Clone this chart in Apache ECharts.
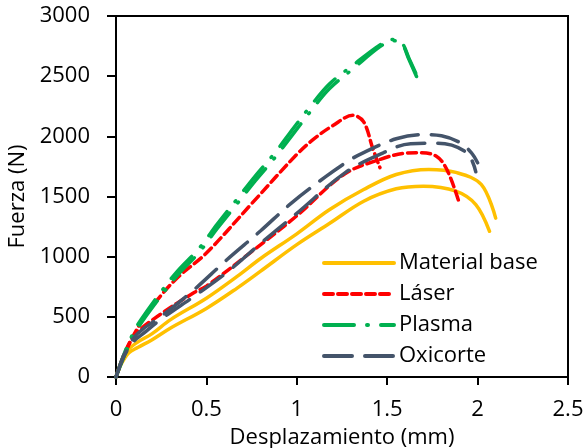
<!DOCTYPE html>
<html>
<head>
<meta charset="utf-8">
<script src="https://cdn.jsdelivr.net/npm/echarts@6/dist/echarts.min.js"></script>
<style>html,body{margin:0;padding:0;background:#fff}#c{width:586px;height:448px}</style>
</head>
<body>
<div id="c"></div>
<script>
// ---- data ----
const seriesNames = ["Material base", "Láser", "Plasma", "Oxicorte"];
const xTicks = [0, 0.5, 1, 1.5, 2, 2.5];
const yTicks = [0, 500, 1000, 1500, 2000, 2500, 3000];

const baseAx = [0, 0.03, 0.07, 0.12, 0.2, 0.3, 0.5, 0.67, 0.8, 1.0, 1.18, 1.37, 1.55, 1.73, 1.88, 2.02, 2.1];
const baseAy = [0, 130, 230, 290, 360, 475, 655, 836, 985, 1190, 1390, 1558, 1683, 1725, 1700, 1600, 1320];
const baseBx = [0, 0.03, 0.07, 0.12, 0.2, 0.3, 0.5, 0.67, 0.8, 1.0, 1.18, 1.37, 1.55, 1.7, 1.88, 1.99, 2.066];
const baseBy = [0, 110, 200, 245, 310, 405, 570, 739, 880, 1100, 1275, 1461, 1564, 1586, 1545, 1433, 1211];

const laserAx = [0, 0.04, 0.08, 0.15, 0.25, 0.35, 0.5, 0.75, 1.0, 1.1, 1.2, 1.31, 1.37, 1.42, 1.46];
const laserAy = [0, 170, 300, 480, 680, 840, 1030, 1440, 1850, 1985, 2090, 2175, 2120, 1900, 1740];
const laserBx = [0, 0.06, 0.11, 0.24, 0.43, 0.5, 0.74, 1.0, 1.26, 1.46, 1.6, 1.68, 1.77, 1.83, 1.9];
const laserBy = [0, 230, 360, 515, 700, 755, 1030, 1340, 1683, 1808, 1860, 1864, 1836, 1725, 1440];

const plasmaAx = [0, 0.05, 0.1, 0.14, 0.24, 0.34, 0.46, 0.56, 0.67, 0.77, 0.88, 0.98, 1.07, 1.18, 1.31, 1.46, 1.53, 1.58, 1.62, 1.68];
const plasmaAy = [0, 210, 380, 480, 690, 880, 1070, 1270, 1480, 1670, 1865, 2065, 2240, 2435, 2590, 2760, 2805, 2780, 2650, 2450];
const plasmaBx = [0, 0.05, 0.1, 0.14, 0.24, 0.34, 0.46, 0.56, 0.67, 0.77, 0.88, 0.98, 1.07, 1.18, 1.31, 1.46, 1.53, 1.58, 1.62, 1.67];
const plasmaBy = [0, 190, 350, 450, 655, 845, 1035, 1235, 1440, 1630, 1825, 2020, 2195, 2395, 2560, 2745, 2795, 2770, 2640, 2470];

const oxiAx = [0, 0.04, 0.07, 0.1, 0.15, 0.25, 0.42, 0.61, 0.8, 0.97, 1.16, 1.29, 1.37, 1.55, 1.7, 1.8, 1.9, 1.965, 2.0];
const oxiAy = [0, 170, 250, 330, 400, 505, 710, 970, 1215, 1445, 1665, 1800, 1865, 1980, 2015, 2005, 1950, 1865, 1780];
const oxiBx = [0, 0.04, 0.07, 0.1, 0.15, 0.24, 0.46, 0.63, 0.8, 1.0, 1.27, 1.48, 1.63, 1.78, 1.94, 1.99];
const oxiBy = [0, 160, 240, 300, 360, 470, 700, 890, 1110, 1360, 1700, 1864, 1939, 1942, 1864, 1705];

// ---- build ----
function zip(xs, ys) { return xs.map((x, i) => [x, ys[i]]); }
const FONT = "Open Sans";
const colors = ["#FFC000", "#FF0000", "#00B050", "#44546A"];
const dashes = ["solid", [9, 5], [30, 13, 1, 13], [28, 13]];

function mk(nameIdx, xs, ys) {
  return {
    type: "line",
    name: seriesNames[nameIdx],
    data: zip(xs, ys),
    showSymbol: false,
    symbol: "none",
    smooth: 0.35,
    color: colors[nameIdx],
    lineStyle: { color: colors[nameIdx], width: 3.5, type: dashes[nameIdx], cap: "round" },
    silent: true,
    animation: false
  };
}

const chart = echarts.init(document.getElementById("c"), null, { renderer: "canvas" });
chart.setOption({
  animation: false,
  textStyle: { fontFamily: FONT },
  grid: { left: 116, right: 18, top: 16, bottom: 71, containLabel: false, outerBoundsMode: "none",
          show: true, borderColor: "#000", borderWidth: 2, backgroundColor: "transparent" },
  xAxis: {
    type: "value", min: xTicks[0], max: xTicks[xTicks.length - 1], interval: 0.5,
    name: "Desplazamiento (mm)", nameLocation: "middle", nameGap: 50,
    nameTextStyle: { fontFamily: FONT, fontSize: 22, color: "#000" },
    axisLine: { show: true, lineStyle: { color: "#000", width: 2 } },
    axisTick: { show: true, inside: false, length: 8, lineStyle: { color: "#000", width: 2 } },
    axisLabel: { fontFamily: FONT, fontSize: 22, color: "#000", margin: 22, formatter: v => String(v) },
    splitLine: { show: false }
  },
  yAxis: {
    type: "value", min: yTicks[0], max: yTicks[yTicks.length - 1], interval: 500,
    name: "Fuerza (N)", nameLocation: "middle", nameGap: 77,
    nameTextStyle: { fontFamily: FONT, fontSize: 22, color: "#000" },
    axisLine: { show: true, lineStyle: { color: "#000", width: 2 } },
    axisTick: { show: true, inside: false, length: 9, lineStyle: { color: "#000", width: 2 } },
    axisLabel: { fontFamily: FONT, fontSize: 22, color: "#000", margin: 26, formatter: v => String(v) },
    splitLine: { show: false }
  },
  legend: {
    data: seriesNames,
    orient: "vertical",
    left: 322, top: 252, padding: 0,
    itemWidth: 70, itemHeight: 14, itemGap: 9,
    itemTextGap: 6,
    itemStyle: { opacity: 0, borderWidth: 0 },
    lineStyle: { width: 4 },
    textStyle: { fontFamily: FONT, fontSize: 22, color: "#000" },
    selectedMode: false
  },
  series: [
    mk(0, baseAx, baseAy), mk(0, baseBx, baseBy),
    mk(1, laserAx, laserAy), mk(1, laserBx, laserBy),
    mk(2, plasmaAx, plasmaAy), mk(2, plasmaBx, plasmaBy),
    mk(3, oxiAx, oxiAy), mk(3, oxiBx, oxiBy)
  ]
});
</script>
</body>
</html>
